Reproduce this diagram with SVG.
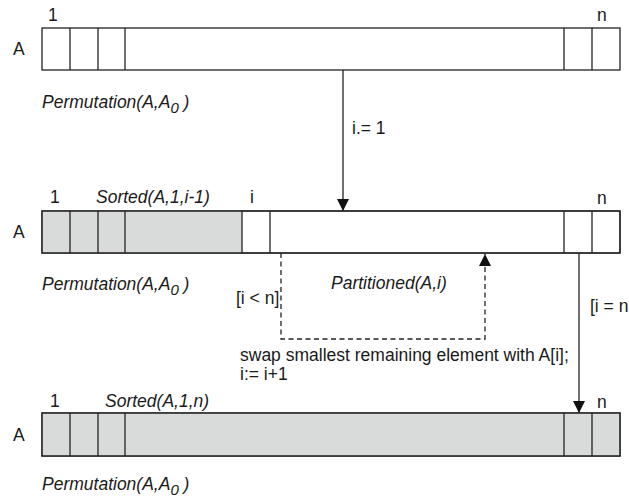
<svg xmlns="http://www.w3.org/2000/svg" width="629" height="500" viewBox="0 0 629 500">
<defs>
<style>
text{font-family:"Liberation Sans",Arial,sans-serif;font-size:17.5px;fill:#1a1a1a}
.it{font-style:italic}
.sub{font-size:15px}
.box{fill:#fff;stroke:#222;stroke-width:1.3}
.g{fill:#d9dbdb}
.cell{fill:none;stroke:#222;stroke-width:1.3}
.ln{fill:none;stroke:#222;stroke-width:1.3}
.dash{fill:none;stroke:#222;stroke-width:1.3;stroke-dasharray:5 3.5}
</style>
<marker id="ah" markerWidth="12" markerHeight="14" refX="12" refY="6" orient="auto" markerUnits="userSpaceOnUse">
<path d="M0,0 L12,6 L0,12 Z" fill="#111"/>
</marker>
</defs>
<rect width="629" height="500" fill="#fff"/>

<g id="array-top">
<rect class="box" x="42" y="28" width="578" height="42"/>
<line class="cell" x1="70" y1="28" x2="70" y2="70"/>
<line class="cell" x1="98" y1="28" x2="98" y2="70"/>
<line class="cell" x1="125" y1="28" x2="125" y2="70"/>
<line class="cell" x1="564" y1="28" x2="564" y2="70"/>
<line class="cell" x1="592" y1="28" x2="592" y2="70"/>
<text x="13" y="55">A</text>
<text x="48" y="21">1</text>
<text x="597" y="21">n</text>
<text class="it" x="42" y="108">Permutation(A,A<tspan class="sub" dy="5">0</tspan><tspan dy="-5"> )</tspan></text>
</g>

<g id="array-mid">
<rect class="box" x="42" y="211" width="578" height="42"/>
<rect class="g" x="42.6" y="211.6" width="199.4" height="40.8"/>
<line class="cell" x1="70" y1="211" x2="70" y2="253"/>
<line class="cell" x1="98" y1="211" x2="98" y2="253"/>
<line class="cell" x1="125" y1="211" x2="125" y2="253"/>
<line class="cell" x1="242" y1="211" x2="242" y2="253"/>
<line class="cell" x1="270" y1="211" x2="270" y2="253"/>
<line class="cell" x1="564" y1="211" x2="564" y2="253"/>
<line class="cell" x1="592" y1="211" x2="592" y2="253"/>
<rect class="cell" x="42" y="211" width="578" height="42"/>
<text x="13" y="238">A</text>
<text x="50" y="203">1</text>
<text class="it" x="96" y="203">Sorted(A,1,i-1)</text>
<text x="250" y="203">i</text>
<text x="597" y="204">n</text>
<text class="it" x="42" y="290">Permutation(A,A<tspan class="sub" dy="5">0</tspan><tspan dy="-5"> )</tspan></text>
<text class="it" x="331" y="289">Partitioned(A,i)</text>
</g>

<g id="array-bottom">
<rect class="box" x="42" y="413" width="578" height="43"/>
<rect class="g" x="42.6" y="413.6" width="576.8" height="41.8"/>
<line class="cell" x1="70" y1="413" x2="70" y2="456"/>
<line class="cell" x1="98" y1="413" x2="98" y2="456"/>
<line class="cell" x1="125" y1="413" x2="125" y2="456"/>
<line class="cell" x1="564" y1="413" x2="564" y2="456"/>
<line class="cell" x1="592" y1="413" x2="592" y2="456"/>
<rect class="cell" x="42" y="413" width="578" height="43"/>
<text x="13" y="441">A</text>
<text x="50" y="407">1</text>
<text class="it" x="105" y="407">Sorted(A,1,n)</text>
<text x="597" y="408">n</text>
<text class="it" x="42" y="490">Permutation(A,A<tspan class="sub" dy="5">0</tspan><tspan dy="-5"> )</tspan></text>
</g>

<g id="connectors">
<line class="ln" x1="343" y1="70" x2="343" y2="211" marker-end="url(#ah)"/>
<text x="352" y="134">i.= 1</text>
<polyline class="dash" points="281,253 281,339 485,339 485,254" marker-end="url(#ah)"/>
<text x="236" y="304">[i &lt; n]</text>
<text x="240" y="361">swap smallest remaining element with A[i];</text>
<text x="240" y="380">i:= i+1</text>
<line class="ln" x1="579" y1="253" x2="579" y2="413" marker-end="url(#ah)"/>
<text x="590" y="312">[i = n</text>
</g>
</svg>
